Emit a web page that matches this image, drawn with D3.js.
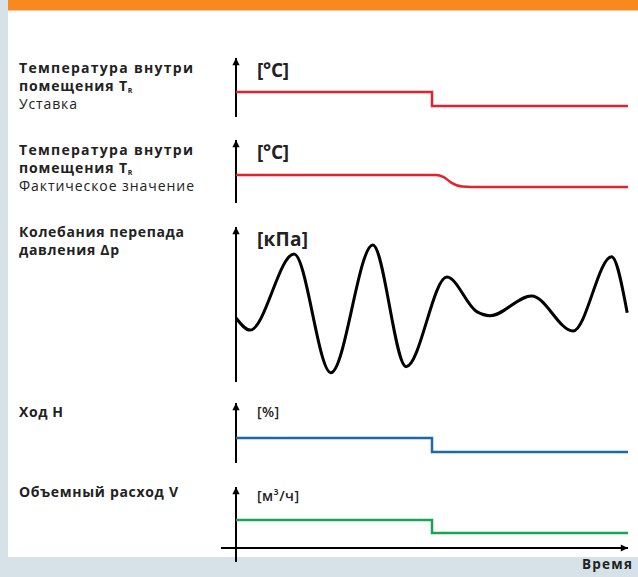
<!DOCTYPE html>
<html><head><meta charset="utf-8">
<script src="https://cdn.jsdelivr.net/npm/d3@7"></script>
<style>
html,body{margin:0;padding:0;background:#d7e1e8;}
svg{display:block;font-family:"Open Sans","Noto Sans",sans-serif;}
</style></head>
<body>
<script>
// ---- data ----
const rowLabels = [
  ["Температура внутри", "помещения T", "Уставка"],
  ["Температура внутри", "помещения T", "Фактическое значение"],
  ["Колебания перепада", "давления Δp"],
  ["Ход H"],
  ["Объемный расход V"]
];
const unitLabels = ["[°C]", "[°C]", "[кПа]", "[%]", "[м³/ч]"];
const timeLabel = "Время";
// step series (time 0..100, value 0..100 relative within each panel)
const setpointT = [0, 50, 50, 100];
const setpointV = [41.4, 41.4, 17.2, 17.2];
const actualT = [0, 51, 53, 55, 57.7, 60, 100];
const actualV = [44.4, 44.4, 41, 32, 26, 25.4, 25.4];
const pressureT = [0, 3.6, 14.8, 24.2, 34.9, 43.4, 53.8, 61.4, 64.8, 75.4, 86, 95.8, 99.8];
const pressureV = [41.3, 33.5, 82.6, 6, 88.4, 9.9, 67.7, 45.4, 42.8, 55.5, 32.9, 80.8, 44.7];
const strokeT = [0, 50, 50, 100];
const strokeV = [41.7, 41.7, 18.3, 18.3];
const flowT = [0, 50, 50, 100];
const flowV = [45.9, 45.9, 24.6, 24.6];

// layout: rendered widths of the left labels in the picture
const labelWidths = [[174, 108, 58], [174, 108, 175], [165, 100], [44], [159]];
const unitWidths = [32, 32, 51, 22, 42];

const W = 638, H = 577;
const svg = d3.select("body").append("svg").attr("width", W).attr("height", H);
svg.append("rect").attr("width", W).attr("height", H).attr("fill", "#d7e1e8");
svg.append("rect").attr("x", 8).attr("y", 0).attr("width", W - 8).attr("height", 10).attr("fill", "#f7891f");
svg.append("rect").attr("x", 8).attr("y", 10).attr("width", W - 8).attr("height", 1).attr("fill", "#fbc98f");
svg.append("rect").attr("x", 8).attr("y", 11).attr("width", W - 8).attr("height", 546).attr("fill", "#ffffff");

const defs = svg.append("defs");
defs.append("marker").attr("id", "arr").attr("viewBox", "0 0 10 10")
  .attr("refX", 10).attr("refY", 5).attr("markerWidth", 4).attr("markerHeight", 3.6)
  .attr("markerUnits", "strokeWidth").attr("orient", "auto")
  .append("path").attr("d", "M0,0 L10,5 L0,10 Z").attr("fill", "#000");

const x = d3.scaleLinear().domain([0, 100]).range([236, 628]);
const axisX = 236;

const panels = [
  {top: 58, bottom: 116, axisBottom: 117, t: setpointT, v: setpointV, color: "#e3232b", curve: d3.curveLinear, sw: 2.5, unitSize: 19, big: true},
  {top: 140, bottom: 203, axisBottom: 203, t: actualT, v: actualV, color: "#e3232b", curve: d3.curveMonotoneX, sw: 2.5, unitSize: 19, big: true},
  {top: 227, bottom: 382, axisBottom: 382, t: pressureT, v: pressureV, color: "#000000", curve: d3.curveMonotoneX, sw: 3, unitSize: 19, big: true},
  {top: 403, bottom: 463, axisBottom: 463, t: strokeT, v: strokeV, color: "#1d68ad", curve: d3.curveLinear, sw: 2.5, unitSize: 14, big: false},
  {top: 487, bottom: 548, axisBottom: 562, t: flowT, v: flowV, color: "#18a553", curve: d3.curveLinear, sw: 2.5, unitSize: 14, big: false}
];
const labelBase = [73, 155, 237, 417, 497];

panels.forEach((p, i) => {
  const y = d3.scaleLinear().domain([0, 100]).range([p.bottom, p.top]);
  svg.append("line").attr("x1", axisX).attr("x2", axisX).attr("y1", p.axisBottom).attr("y2", p.top)
    .attr("stroke", "#000").attr("stroke-width", 2).attr("marker-end", "url(#arr)");
  svg.append("text").attr("x", 257).attr("y", p.top + (p.big ? 19 : 14))
    .attr("font-size", p.unitSize).attr("font-weight", p.big ? 700 : 600)
    .attr("textLength", unitWidths[i]).attr("lengthAdjust", "spacing")
    .attr("fill", "#222").text(unitLabels[i]);
  const data = p.t.map((t, k) => [t, p.v[k]]);
  svg.append("path").datum(data)
    .attr("d", d3.line().x(d => x(d[0])).y(d => y(d[1])).curve(p.curve))
    .attr("fill", "none").attr("stroke", p.color).attr("stroke-width", p.sw)
    .attr("stroke-linejoin", "miter");
  const lines = rowLabels[i];
  lines.forEach((s, k) => {
    const bold = !(lines.length === 3 && k === 2);
    const tx = svg.append("text").attr("x", 19).attr("y", labelBase[i] + k * 18)
      .attr("font-size", 14).attr("font-weight", bold ? 700 : 400).attr("fill", "#222");
    tx.append("tspan").attr("textLength", labelWidths[i][k]).attr("lengthAdjust", "spacing").text(s);
    if (s === "помещения T") tx.append("tspan").attr("font-size", 7).attr("dy", 2).text("R");
  });
});

svg.append("line").attr("x1", 221).attr("x2", 628).attr("y1", 548).attr("y2", 548)
  .attr("stroke", "#000").attr("stroke-width", 2).attr("marker-end", "url(#arr)");
svg.append("text").attr("x", 582).attr("y", 569)
  .attr("textLength", 50).attr("lengthAdjust", "spacing")
  .attr("font-size", 13.5).attr("font-weight", 700).attr("fill", "#222").text(timeLabel);
</script>
</body></html>
